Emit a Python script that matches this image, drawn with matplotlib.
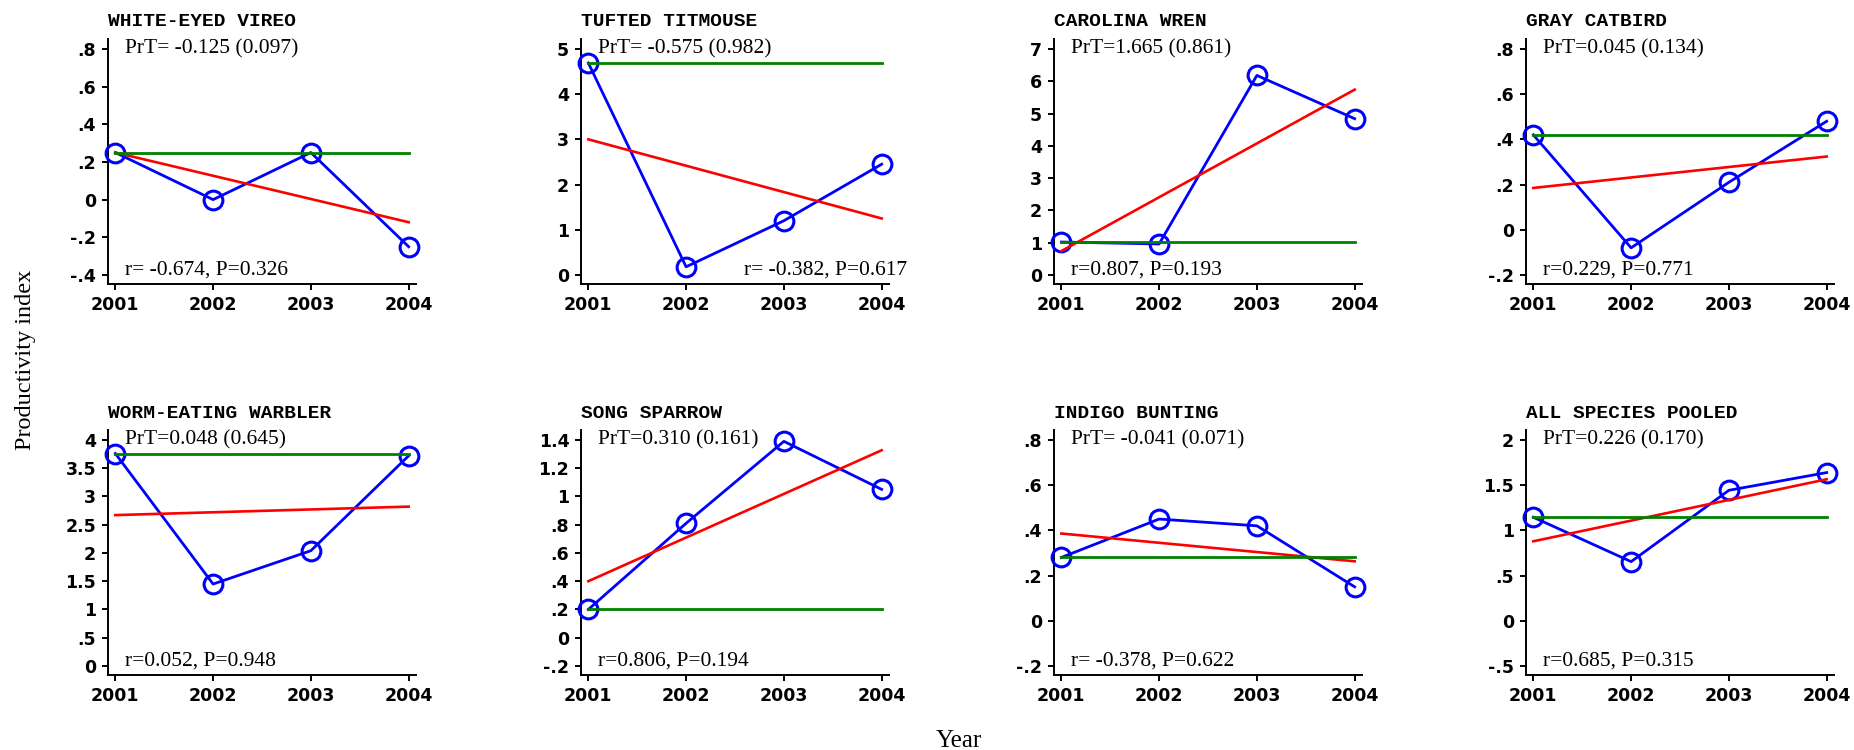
import matplotlib
matplotlib.use("Agg")
import matplotlib.pyplot as plt
from matplotlib.ticker import FuncFormatter
import matplotlib.transforms as mtransforms
import numpy as np

# dados
years = [2001, 2002, 2003, 2004]
species = ["WHITE-EYED VIREO", "TUFTED TITMOUSE", "CAROLINA WREN", "GRAY CATBIRD",
           "WORM-EATING WARBLER", "SONG SPARROW", "INDIGO BUNTING", "ALL SPECIES POOLED"]

wevi = [0.25, 0.0, 0.25, -0.25]
tuti = [4.69, 0.18, 1.20, 2.45]
carw = [1.02, 0.96, 6.18, 4.84]
grca = [0.42, -0.08, 0.21, 0.48]
wewa = [3.76, 1.45, 2.04, 3.72]
sosp = [0.20, 0.81, 1.39, 1.05]
inbu = [0.28, 0.45, 0.42, 0.15]
pooled = [1.145, 0.654, 1.443, 1.639]
series = [wevi, tuti, carw, grca, wewa, sosp, inbu, pooled]

# reta de tendência (valores em 2001 e 2004)
trend_2001 = [0.25, 3.0, 0.74, 0.185, 2.67, 0.40, 0.386, 0.879]
trend_2004 = [-0.12, 1.25, 5.74, 0.324, 2.82, 1.327, 0.263, 1.565]

prt_text = ["PrT= -0.125 (0.097)", "PrT= -0.575 (0.982)", "PrT=1.665 (0.861)",
            "PrT=0.045 (0.134)", "PrT=0.048 (0.645)", "PrT=0.310 (0.161)",
            "PrT= -0.041 (0.071)", "PrT=0.226 (0.170)"]
r_text = ["r= -0.674, P=0.326", "r= -0.382, P=0.617", "r=0.807, P=0.193",
          "r=0.229, P=0.771", "r=0.052, P=0.948", "r=0.806, P=0.194",
          "r= -0.378, P=0.622", "r=0.685, P=0.315"]

# escala y de cada painel
ytick_lo = [-0.4, 0, 0, -0.2, 0, -0.2, -0.2, -0.5]
ytick_hi = [0.8, 5, 7, 0.8, 4, 1.4, 0.8, 2]
ytick_step = [0.2, 1, 1, 0.2, 0.5, 0.2, 0.2, 0.5]

W, H = 1854, 750
fig = plt.figure(figsize=(W / 100, H / 100), dpi=100)

col_left = [108, 581, 1054, 1526]
row_top = [39, 430]
ax_w, ax_h = 308, 245


def stata_fmt(v, pos):
    s = f"{v:.10g}"
    if s.startswith("0."):
        s = s[1:]
    elif s.startswith("-0."):
        s = "-" + s[2:]
    if s == "-0":
        s = "0"
    return s


for i in range(8):
    r, c = divmod(i, 4)
    ax = fig.add_axes([col_left[c] / W, (H - row_top[r] - ax_h) / H, ax_w / W, ax_h / H])
    y = series[i]

    ax.plot(years, y, color="blue", lw=2.0, marker="o", ms=13.5, mfc="none", mec="blue",
            mew=2.2, zorder=3, clip_on=False)
    ax.plot([years[0], years[-1]], [trend_2001[i], trend_2004[i]], color="red", lw=1.9, zorder=4)
    ax.plot([years[0], years[-1]], [y[0], y[0]], color="#008000", lw=2.0, zorder=5)

    lo, hi = ytick_lo[i], ytick_hi[i]
    span = hi - lo
    ax.set_ylim(lo - 0.04 * span, hi + 0.044 * span)
    ax.set_xlim(2000.925, 2004.075)
    ticks = np.round(np.arange(lo, hi + ytick_step[i] / 2, ytick_step[i]), 3)
    ax.set_yticks(ticks)
    ax.set_xticks(years)
    ax.yaxis.set_major_formatter(FuncFormatter(stata_fmt))

    for s in ["top", "right"]:
        ax.spines[s].set_visible(False)
    for s in ["left", "bottom"]:
        ax.spines[s].set_linewidth(1.4)
    ax.tick_params(length=4.5, width=1.4, pad=4, labelsize=12.5)
    for lab in ax.get_xticklabels() + ax.get_yticklabels():
        lab.set_fontfamily("DejaVu Sans")
        lab.set_fontweight("bold")

    # título do painel
    off = mtransforms.offset_copy(ax.transAxes, fig=fig, x=0, y=9, units="points")
    ax.text(0, 1, species[i], transform=off, ha="left", va="baseline",
            family="Liberation Mono", fontweight="bold", fontsize=14)

    ax.text(2001.1, hi, prt_text[i], ha="left", va="center",
            family="Liberation Serif", fontsize=15.5, zorder=6)
    if i == 1:
        ax.text(2004.26, lo, r_text[i], ha="right", va="baseline",
                family="Liberation Serif", fontsize=15.5, clip_on=False)
    else:
        ax.text(2001.1, lo, r_text[i], ha="left", va="baseline",
                family="Liberation Serif", fontsize=15.5)

fig.text(26 / W, 1 - 360 / H, "Productivity index", rotation=90, ha="center", va="center",
         family="Liberation Serif", fontsize=17.5)
fig.text(959 / W, 1 - 741 / H, "Year", ha="center", va="center",
         family="Liberation Serif", fontsize=18)

fig.savefig("out.png", dpi=100)
